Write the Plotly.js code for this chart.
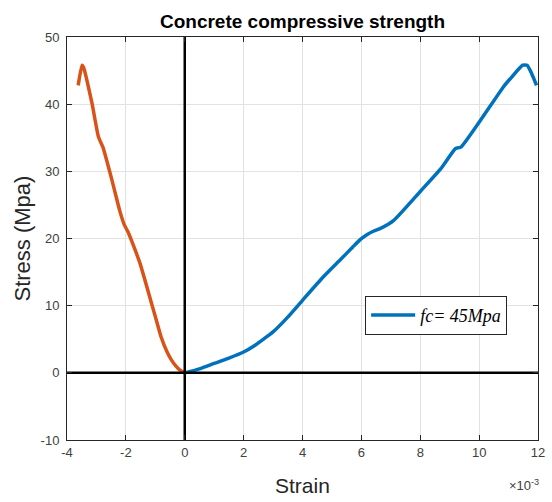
<!DOCTYPE html>
<html>
<head>
<meta charset="utf-8">
<script src="https://cdn.plot.ly/plotly-3.0.1.min.js"></script>
<style>html,body{margin:0;padding:0;background:#fff;}#chart{width:552px;height:502px;}</style>
</head>
<body>
<div id="chart"></div>
<script>
// Strain values in units of 1e-3
const strainBlue = [0, 0.5, 1.0, 1.5, 2.0, 2.35, 2.7, 3.0, 3.5, 4.0, 4.71, 5.3, 5.7, 5.95, 6.2, 6.37, 6.65, 7.1, 8.0, 8.7, 9.2, 9.38, 10.0, 10.83, 11.1, 11.48, 11.63, 11.78, 11.95];
const stressBlue = [0, 0.6, 1.4, 2.2, 3.1, 4.0, 5.1, 6.1, 8.3, 10.8, 14.3, 16.9, 18.7, 19.8, 20.6, 21.0, 21.5, 22.7, 27.0, 30.4, 33.4, 33.6, 37.3, 42.6, 44.0, 45.8, 45.8, 44.6, 42.8];

const strainOrange = [-3.62, -3.49, -3.44, -3.15, -2.93, -2.78, -2.48, -2.2, -2.06, -1.93, -1.80, -1.52, -1.125, -0.95, -0.8, -0.6, -0.45, -0.3, -0.15, 0];
const stressOrange = [42.8, 45.8, 45.5, 40.1, 35.1, 33.6, 28.8, 24.0, 22.1, 21.0, 19.6, 16.3, 10.3, 7.6, 5.3, 3.1, 1.9, 1.0, 0.35, 0];

const vLineX = [0, 0], vLineY = [-10, 50];
const hLineX = [-4, 12], hLineY = [0, 0];

const xTicks = [-4, -2, 0, 2, 4, 6, 8, 10, 12];
const yTicks = [-10, 0, 10, 20, 30, 40, 50];

const legendName = 'fc= 45Mpa';

const axisColor = '#262626';
const tickFont = {family: 'Liberation Sans, Arial, sans-serif', size: 13, color: '#404040'};

const traces = [
  {x: strainBlue, y: stressBlue, type: 'scatter', mode: 'lines', name: legendName,
   line: {color: '#0072BD', width: 3.5, shape: 'spline', smoothing: 0.5}, showlegend: true},
  {x: strainOrange, y: stressOrange, type: 'scatter', mode: 'lines', name: 'orange',
   line: {color: '#D95319', width: 3.5, shape: 'spline', smoothing: 0.5}, showlegend: false},
  {x: vLineX, y: vLineY, type: 'scatter', mode: 'lines', line: {color: '#000', width: 2.5}, showlegend: false, hoverinfo: 'skip'},
  {x: hLineX, y: hLineY, type: 'scatter', mode: 'lines', line: {color: '#000', width: 2.5}, showlegend: false, hoverinfo: 'skip'}
];

const layout = {
  width: 552, height: 502,
  margin: {l: 67, r: 14, t: 37, b: 62},
  paper_bgcolor: '#fff', plot_bgcolor: '#fff',
  title: {text: '<b>Concrete compressive strength</b>', x: 0.5, xref: 'paper', xanchor: 'center',
          y: 0.958, yref: 'container', yanchor: 'middle',
          font: {family: 'Liberation Sans, Arial, sans-serif', size: 19, color: '#000'}},
  xaxis: {range: [-4, 12], tickvals: xTicks, ticktext: xTicks.map(String),
          showgrid: true, gridcolor: '#e2e2e2', gridwidth: 1, zeroline: false,
          showline: true, linecolor: axisColor, linewidth: 1, mirror: 'ticks',
          ticks: 'inside', ticklen: 5, tickcolor: axisColor, tickfont: tickFont, automargin: false},
  yaxis: {range: [-10, 50], tickvals: yTicks, ticktext: yTicks.map(String),
          showgrid: true, gridcolor: '#e2e2e2', gridwidth: 1, zeroline: false,
          showline: true, linecolor: axisColor, linewidth: 1, mirror: 'ticks',
          ticks: 'inside', ticklen: 5, tickcolor: axisColor, tickfont: tickFont, automargin: false,
          ticklabelstandoff: 4},
  showlegend: true,
  legend: {x: 0.633, y: 0.358, xanchor: 'left', yanchor: 'top', bgcolor: '#fff',
           bordercolor: axisColor, borderwidth: 1, itemwidth: 44,
           font: {family: 'Liberation Serif, Times New Roman, serif', size: 18, color: '#000', style: 'italic'}},
  annotations: [
    {text: 'Strain', xref: 'paper', yref: 'paper', x: 0.5, y: -0.114, xanchor: 'center', yanchor: 'middle',
     showarrow: false, font: {family: 'Liberation Sans, Arial, sans-serif', size: 21, color: '#262626'}},
    {text: 'Stress (Mpa)', xref: 'paper', yref: 'paper', x: -0.0955, y: 0.5, xanchor: 'center', yanchor: 'middle',
     textangle: -90, showarrow: false, font: {family: 'Liberation Sans, Arial, sans-serif', size: 22, color: '#262626'}},
    {text: '\u00d710<sup>-3</sup>', xref: 'paper', yref: 'paper', x: 1.006, y: -0.112, xanchor: 'right', yanchor: 'middle',
     showarrow: false, font: {family: 'Liberation Sans, Arial, sans-serif', size: 13, color: '#404040'}}
  ]
};

Plotly.newPlot('chart', traces, layout, {displayModeBar: false, staticPlot: true});
</script>
</body>
</html>
